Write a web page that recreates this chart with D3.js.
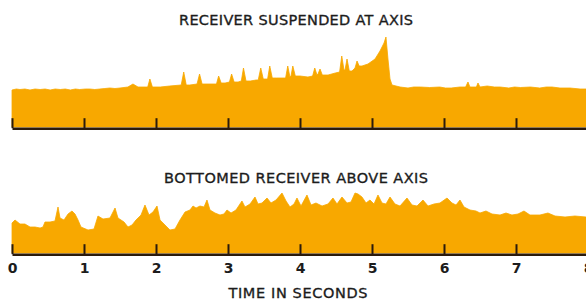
<!DOCTYPE html>
<html>
<head>
<meta charset="utf-8">
<script src="https://cdn.jsdelivr.net/npm/d3@7"></script>
<style>
  body { margin: 0; background: #fff; }
  svg { display: block; }
  .ttl { font-family: "DejaVu Sans", sans-serif; font-size: 14.5px; fill: #1c1c1c; stroke: #1c1c1c; stroke-width: 0.35px; }
  .axis text { font-family: "DejaVu Sans", sans-serif; font-size: 14px; font-weight: bold; fill: #1c1c1c; }
</style>
</head>
<body>
<script>
// time in seconds on the x axis
var timeTicks = [0, 1, 2, 3, 4, 5, 6, 7, 8];

var titleTop = "RECEIVER SUSPENDED AT AXIS";
var titleBottom = "BOTTOMED RECEIVER ABOVE AXIS";
var axisTitle = "TIME IN SECONDS";

// [seconds, amplitude], receiver suspended at axis
var suspended = [
  [0, 37], [0.06, 38], [0.11, 37.5], [0.18, 38], [0.25, 37], [0.32, 38], [0.39, 37.5], [0.46, 38],
  [0.53, 37], [0.6, 38], [0.67, 37.5], [0.74, 38], [0.81, 37], [0.88, 38], [0.94, 37.5], [1.02, 38],
  [1.08, 38], [1.15, 37.5], [1.22, 38], [1.29, 38.5], [1.36, 39], [1.43, 38.5], [1.5, 39], [1.61, 40],
  [1.68, 43], [1.75, 40], [1.85, 40], [1.885, 40], [1.915, 48], [1.95, 40], [2.06, 40], [2.19, 41],
  [2.35, 42], [2.385, 55], [2.42, 42], [2.47, 42], [2.57, 43], [2.605, 53], [2.64, 43], [2.75, 43],
  [2.84, 43], [2.87, 51], [2.905, 44], [2.96, 44], [3.02, 45], [3.05, 53], [3.085, 45], [3.14, 45],
  [3.185, 46], [3.215, 59], [3.25, 46], [3.31, 46], [3.39, 47], [3.42, 47], [3.455, 59], [3.49, 48],
  [3.53, 48], [3.55, 48], [3.58, 61], [3.615, 49], [3.67, 49], [3.75, 49], [3.8, 49], [3.83, 61],
  [3.86, 50], [3.875, 51], [3.9, 61], [3.935, 51], [4.0, 51], [4.11, 50], [4.175, 51], [4.205, 59],
  [4.236, 52], [4.25, 53], [4.278, 58], [4.31, 52], [4.39, 52], [4.49, 54], [4.55, 55], [4.58, 71],
  [4.611, 57], [4.625, 57], [4.653, 68], [4.685, 56], [4.722, 56], [4.764, 59], [4.792, 66], [4.822, 61],
  [4.861, 61], [4.944, 63], [5.042, 68], [5.111, 76], [5.167, 84], [5.194, 90], [5.222, 68], [5.25, 48],
  [5.278, 42], [5.39, 40], [5.5, 39], [5.58, 40], [5.67, 40], [5.8, 39.5], [5.94, 40], [6.02, 39],
  [6.1, 39], [6.22, 40], [6.3, 40], [6.333, 45], [6.36, 40], [6.45, 40], [6.472, 44], [6.5, 40],
  [6.6, 41], [6.7, 40], [6.78, 40], [6.9, 39], [6.98, 40], [7.06, 39.5], [7.2, 40], [7.33, 39],
  [7.42, 40], [7.5, 40], [7.61, 39], [7.75, 39], [7.89, 38], [8, 38]
];

// [seconds, amplitude], bottomed receiver above axis
var bottomed = [
  [0, 30], [0.042, 33], [0.111, 29], [0.18, 29], [0.25, 26], [0.32, 26], [0.39, 25], [0.43, 26],
  [0.458, 31], [0.528, 31], [0.597, 32], [0.639, 46], [0.667, 35], [0.722, 33], [0.778, 39], [0.833, 42],
  [0.875, 39], [0.917, 33], [0.958, 26], [1.056, 23], [1.139, 24], [1.194, 37], [1.264, 34], [1.361, 35],
  [1.431, 45], [1.472, 35], [1.556, 31], [1.611, 26], [1.667, 28], [1.722, 33], [1.792, 38], [1.847, 48],
  [1.903, 38], [1.958, 41], [2.014, 47], [2.056, 33], [2.125, 28], [2.194, 23], [2.264, 24], [2.333, 33],
  [2.403, 41], [2.472, 43], [2.514, 47], [2.556, 45], [2.611, 47], [2.667, 46], [2.708, 53], [2.75, 43],
  [2.819, 40], [2.889, 38], [2.944, 39], [2.986, 43], [3.042, 40], [3.111, 43], [3.194, 52], [3.236, 46],
  [3.306, 49], [3.375, 56], [3.417, 49], [3.472, 50], [3.542, 55], [3.597, 50], [3.667, 53], [3.75, 60],
  [3.806, 52], [3.861, 46], [3.917, 49], [3.958, 55], [4.014, 47], [4.097, 58], [4.153, 48], [4.222, 50],
  [4.306, 47], [4.389, 49], [4.458, 55], [4.514, 49], [4.583, 56], [4.653, 50], [4.708, 51], [4.764, 60],
  [4.806, 59], [4.861, 56], [4.917, 50], [4.972, 53], [5.028, 49], [5.083, 58], [5.139, 50], [5.194, 49],
  [5.25, 56], [5.319, 49], [5.389, 47], [5.486, 55], [5.556, 48], [5.625, 47], [5.708, 53], [5.778, 47],
  [5.861, 49], [5.944, 50], [6.042, 55], [6.111, 50], [6.167, 48], [6.222, 53], [6.278, 46], [6.361, 43],
  [6.444, 42], [6.5, 40], [6.583, 42], [6.667, 39], [6.778, 38], [6.861, 40], [6.944, 38], [7.028, 39],
  [7.111, 42], [7.194, 38], [7.333, 38], [7.444, 40], [7.542, 37], [7.681, 36], [7.819, 37], [7.972, 36],
  [8, 36]
];

var W = 586, H = 300;
var orange = "#f8a800", ink = "#2a1a0c";

var svg = d3.select("body").append("svg").attr("width", W).attr("height", H);

var x = d3.scaleLinear().domain([0, 8]).range([12, 588]);

function drawPanel(data, base, title, titleY, titleW, labels) {
  var y = d3.scaleLinear().domain([0, 90]).range([base, base - 90]);

  var area = d3.area()
    .x(function (d) { return x(d[0]); })
    .y0(y(0))
    .y1(function (d) { return y(d[1]); });

  svg.append("path").datum(data)
    .attr("d", area)
    .attr("fill", orange)
    .attr("stroke", orange).attr("stroke-width", 0.8).attr("stroke-linejoin", "round");

  var ax = d3.axisBottom(x).tickValues(timeTicks)
    .tickSizeInner(-10).tickSizeOuter(0).tickPadding(9);
  if (!labels) ax.tickFormat("");

  var g = svg.append("g").attr("class", "axis")
    .attr("transform", "translate(0," + (base + 1.2) + ")")
    .call(ax);
  g.select(".domain").attr("stroke", ink).attr("stroke-width", 2.6);
  g.selectAll(".tick line").attr("stroke", ink).attr("stroke-width", 2);

  svg.append("text").attr("class", "ttl")
    .attr("x", x(4) - 4).attr("y", titleY)
    .attr("text-anchor", "middle")
    .attr("textLength", titleW).attr("lengthAdjust", "spacing")
    .text(title);
}

drawPanel(suspended, 127, titleTop, 25, 234, false);
drawPanel(bottomed, 253, titleBottom, 183, 264, true);

svg.append("text").attr("class", "ttl")
  .attr("x", 298).attr("y", 298)
  .attr("text-anchor", "middle")
  .attr("textLength", 139).attr("lengthAdjust", "spacing")
  .text(axisTitle);
</script>
</body>
</html>
